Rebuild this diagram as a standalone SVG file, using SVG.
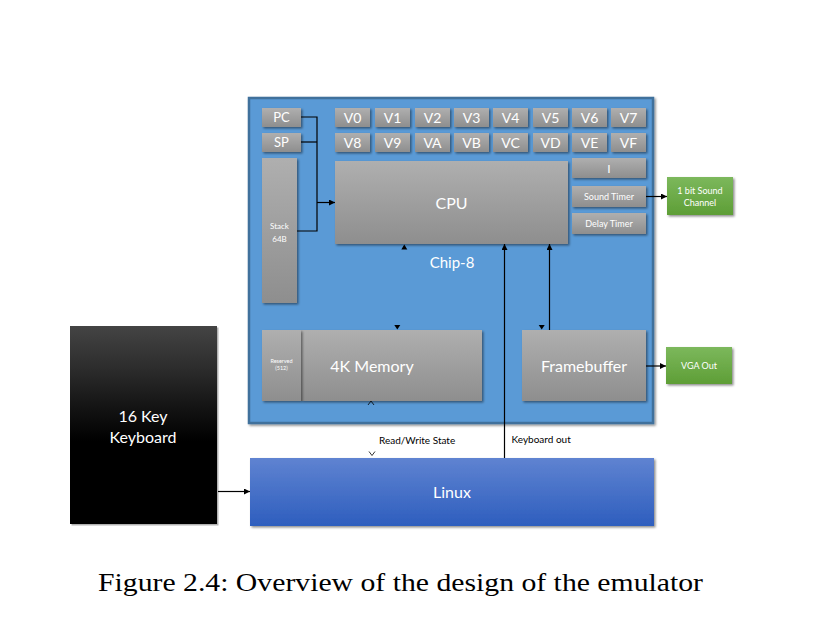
<svg xmlns="http://www.w3.org/2000/svg" width="825" height="631" viewBox="0 0 825 631">
<defs>
<linearGradient id="gGray" x1="0" y1="0" x2="0" y2="1"><stop offset="0" stop-color="#afafaf"/><stop offset="1" stop-color="#8e8e8e"/></linearGradient>
<linearGradient id="gGreen" x1="0" y1="0" x2="0" y2="1"><stop offset="0" stop-color="#7cb85c"/><stop offset="1" stop-color="#5e9e36"/></linearGradient>
<linearGradient id="gBlue" x1="0" y1="0" x2="0" y2="1"><stop offset="0" stop-color="#5f83d1"/><stop offset="1" stop-color="#2e5ebe"/></linearGradient>
<linearGradient id="gBlack" x1="0" y1="0" x2="0" y2="1"><stop offset="0" stop-color="#444444"/><stop offset="0.2" stop-color="#2e2e2e"/><stop offset="0.4" stop-color="#151515"/><stop offset="0.58" stop-color="#000000"/><stop offset="1" stop-color="#000000"/></linearGradient>
<filter id="sh" x="-10%" y="-10%" width="130%" height="130%"><feDropShadow dx="1.5" dy="1.5" stdDeviation="1" flood-color="#000" flood-opacity="0.45"/></filter>
<marker id="ah" viewBox="0 0 10 10" refX="10" refY="5" markerWidth="6" markerHeight="6" markerUnits="userSpaceOnUse" orient="auto"><path d="M0,0 L10,5 L0,10 z" fill="#000"/></marker>
</defs>
<style>
.gray{fill:url(#gGray);filter:url(#sh)}
.green{fill:url(#gGreen);filter:url(#sh)}
.t{font-family:Lato,"Open Sans",sans-serif;fill:#fff;text-anchor:middle;dominant-baseline:central}
.lbl{font-family:Lato,"Open Sans",sans-serif;fill:#000;font-size:10px}
.ln{stroke:#000;stroke-width:1.2;fill:none}
</style>
<rect width="825" height="631" fill="#fff"/>

<g id="chip8">
<rect x="249" y="98" width="404" height="325" fill="#5a9ad6" stroke="#41719c" stroke-width="2.5" filter="url(#sh)"/>
<text class="t" x="452" y="261.5" font-size="15">Chip-8</text>
</g>

<g id="pc"><rect class="gray" x="262" y="108" width="39" height="19"/><text class="t" x="281.5" y="117" font-size="13">PC</text></g>
<g id="sp"><rect class="gray" x="262" y="133" width="39" height="19"/><text class="t" x="281.5" y="142" font-size="13">SP</text></g>
<g id="stack"><rect class="gray" x="262" y="158" width="35" height="145"/><text class="t" x="279.5" y="226" font-size="8">Stack</text><text class="t" x="279.5" y="239" font-size="8">64B</text></g>

<g id="v0"><rect class="gray" x="335" y="108" width="35" height="19"/><text class="t" x="352.5" y="117" font-size="14">V0</text></g>
<g id="v1"><rect class="gray" x="375" y="108" width="35" height="19"/><text class="t" x="392.5" y="117" font-size="14">V1</text></g>
<g id="v2"><rect class="gray" x="415" y="108" width="35" height="19"/><text class="t" x="432.5" y="117" font-size="14">V2</text></g>
<g id="v3"><rect class="gray" x="454" y="108" width="35" height="19"/><text class="t" x="471.5" y="117" font-size="14">V3</text></g>
<g id="v4"><rect class="gray" x="493" y="108" width="35" height="19"/><text class="t" x="510.5" y="117" font-size="14">V4</text></g>
<g id="v5"><rect class="gray" x="533" y="108" width="35" height="19"/><text class="t" x="550.5" y="117" font-size="14">V5</text></g>
<g id="v6"><rect class="gray" x="572" y="108" width="35" height="19"/><text class="t" x="589.5" y="117" font-size="14">V6</text></g>
<g id="v7"><rect class="gray" x="611" y="108" width="35" height="19"/><text class="t" x="628.5" y="117" font-size="14">V7</text></g>
<g id="v8"><rect class="gray" x="335" y="133" width="35" height="19"/><text class="t" x="352.5" y="142" font-size="14">V8</text></g>
<g id="v9"><rect class="gray" x="375" y="133" width="35" height="19"/><text class="t" x="392.5" y="142" font-size="14">V9</text></g>
<g id="va"><rect class="gray" x="415" y="133" width="35" height="19"/><text class="t" x="432.5" y="142" font-size="14">VA</text></g>
<g id="vb"><rect class="gray" x="454" y="133" width="35" height="19"/><text class="t" x="471.5" y="142" font-size="14">VB</text></g>
<g id="vc"><rect class="gray" x="493" y="133" width="35" height="19"/><text class="t" x="510.5" y="142" font-size="14">VC</text></g>
<g id="vd"><rect class="gray" x="533" y="133" width="35" height="19"/><text class="t" x="550.5" y="142" font-size="14">VD</text></g>
<g id="ve"><rect class="gray" x="572" y="133" width="35" height="19"/><text class="t" x="589.5" y="142" font-size="14">VE</text></g>
<g id="vf"><rect class="gray" x="611" y="133" width="35" height="19"/><text class="t" x="628.5" y="142" font-size="14">VF</text></g>

<g id="cpu"><rect class="gray" x="335" y="161" width="233" height="83"/><text class="t" x="451.5" y="202" font-size="16">CPU</text></g>
<g id="ireg"><rect class="gray" x="572" y="158" width="74" height="20"/><text class="t" x="609" y="168" font-size="12">I</text></g>
<g id="soundtimer"><rect class="gray" x="572" y="186" width="74" height="21"/><text class="t" x="609" y="196.5" font-size="9">Sound Timer</text></g>
<g id="delaytimer"><rect class="gray" x="572" y="213" width="74" height="21"/><text class="t" x="609" y="223.5" font-size="9">Delay Timer</text></g>

<g id="soundchannel"><rect class="green" x="667" y="177" width="66" height="38"/><text class="t" x="700" y="190" font-size="9">1 bit Sound</text><text class="t" x="700" y="202" font-size="9">Channel</text></g>

<g id="memory">
<rect class="gray" x="301" y="330" width="181" height="71"/>
<rect class="gray" x="262" y="330" width="39" height="71"/>
<text class="t" x="281.5" y="361" font-size="5.5">Reserved</text><text class="t" x="281.5" y="368" font-size="5.5">(512)</text>
<text class="t" x="372" y="365.5" font-size="16">4K Memory</text>
</g>
<g id="framebuffer"><rect class="gray" x="522" y="330" width="124" height="71"/><text class="t" x="584" y="365.5" font-size="16">Framebuffer</text></g>
<g id="vgaout"><rect class="green" x="666" y="347" width="66" height="37"/><text class="t" x="699" y="365.5" font-size="9">VGA Out</text></g>

<g id="linux"><rect x="250" y="458" width="404" height="68" fill="url(#gBlue)" filter="url(#sh)"/><text class="t" x="452" y="491.5" font-size="16">Linux</text></g>
<g id="keyboard"><rect x="71.5" y="327.5" width="147" height="198" fill="#000" opacity="0.3"/><rect x="70" y="326" width="147" height="198" fill="url(#gBlack)"/><text class="t" x="143" y="415.5" font-size="16">16 Key</text><text class="t" x="143" y="436.5" font-size="16">Keyboard</text></g>

<g id="connectors">
<path class="ln" d="M301,117 H317 V231 H297"/>
<path class="ln" d="M301,142 H317"/>
<path class="ln" d="M317,202.5 H335" marker-end="url(#ah)"/>
<path class="ln" d="M646,196.5 H667" marker-end="url(#ah)"/>
<path class="ln" d="M646,366 H666" marker-end="url(#ah)"/>
<path class="ln" d="M218,491.5 H250" marker-end="url(#ah)"/>
<path class="ln" d="M504.5,458 V244" marker-end="url(#ah)"/>
<path class="ln" d="M549.5,330 V244" marker-end="url(#ah)"/>
<polygon points="404.3,244.5 401.3,249.5 407.3,249.5" fill="#000"/>
<polygon points="397.3,329.5 394.3,325 400.3,325" fill="#000"/>
<polygon points="541.7,329.5 538.7,325 544.7,325" fill="#000"/>
<polyline points="368,405 371,401 374,405" fill="none" stroke="#000" stroke-width="0.8"/>
<polyline points="369,451.5 372,455.5 375,451.5" fill="none" stroke="#000" stroke-width="0.8"/>
<text class="lbl" x="379" y="444">Read/Write State</text>
<text class="lbl" x="511.5" y="443">Keyboard out</text>
</g>

<text x="98" y="591" font-family="'Liberation Serif','DejaVu Serif',serif" font-size="25" fill="#000" textLength="605" lengthAdjust="spacingAndGlyphs">Figure 2.4: Overview of the design of the emulator</text>
</svg>
